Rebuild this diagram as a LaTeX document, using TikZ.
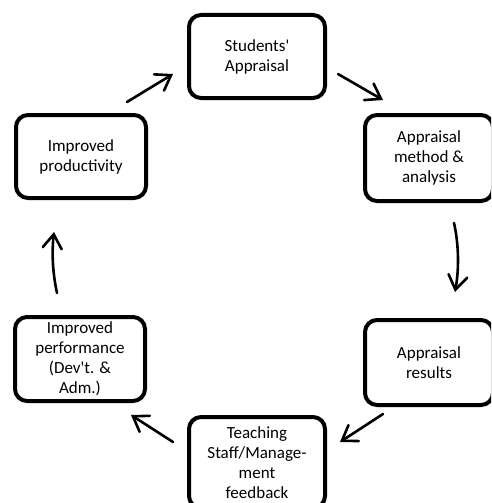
\documentclass[tikz,border=0pt]{standalone}
\usepackage{fontspec}
\newfontfamily\boxfont{Carlito}
\usetikzlibrary{arrows.meta}
\tikzset{
  box/.style={draw=black, fill=white, line width=4pt, rounded corners=12pt,
    align=center, inner sep=0pt, font=\boxfont\fontsize{17}{20}\selectfont},
  flow/.style={line width=2.6pt, line cap=round, -{Straight Barb[length=14pt,width=19pt,line cap=round]}}
}
\begin{document}
\begin{tikzpicture}[x=1pt,y=-1pt]
\clip (0,0) rectangle (491,503);
\fill[white] (0,0) rectangle (491,503);
\node[box, minimum width=136pt, minimum height=83pt] (s1) at (257,56.5) {Students'\\Appraisal};
\node[box, minimum width=128pt, minimum height=86pt] (s2) at (429,158) {Appraisal\\method \&\\analysis};
\node[box, minimum width=128pt, minimum height=85pt] (s3) at (429,362.5) {Appraisal\\results};
\node[box, minimum width=136pt, minimum height=91pt] (s4) at (257,462.5) {Teaching\\Staff/Manage-\\ment\\feedback};
\node[box, minimum width=130pt, minimum height=84pt] (s5) at (80,359) {Improved\\performance\\(Dev't. \&\\Adm.)};
\node[box, minimum width=130pt, minimum height=83pt] (s6) at (81,156.5) {Improved\\productivity};
\coordinate (a1s) at (338,74);  \coordinate (a1e) at (383,100);
\coordinate (a2s) at (454,223); \coordinate (a2e) at (455,292);
\coordinate (a3s) at (383,414); \coordinate (a3e) at (340,442);
\coordinate (a4s) at (173,442); \coordinate (a4e) at (131,415);
\coordinate (a5s) at (57,293);  \coordinate (a5e) at (54,232);
\coordinate (a6s) at (127,102); \coordinate (a6e) at (173,74);
\draw[flow] (a1s) -- (a1e);
\draw[flow] (a2s) .. controls (459,245) and (459,270) .. (a2e);
\draw[flow] (a3s) -- (a3e);
\draw[flow] (a4s) -- (a4e);
\draw[flow] (a5s) .. controls (52,270) and (52,250) .. (a5e);
\draw[flow] (a6s) -- (a6e);
\end{tikzpicture}
\end{document}
